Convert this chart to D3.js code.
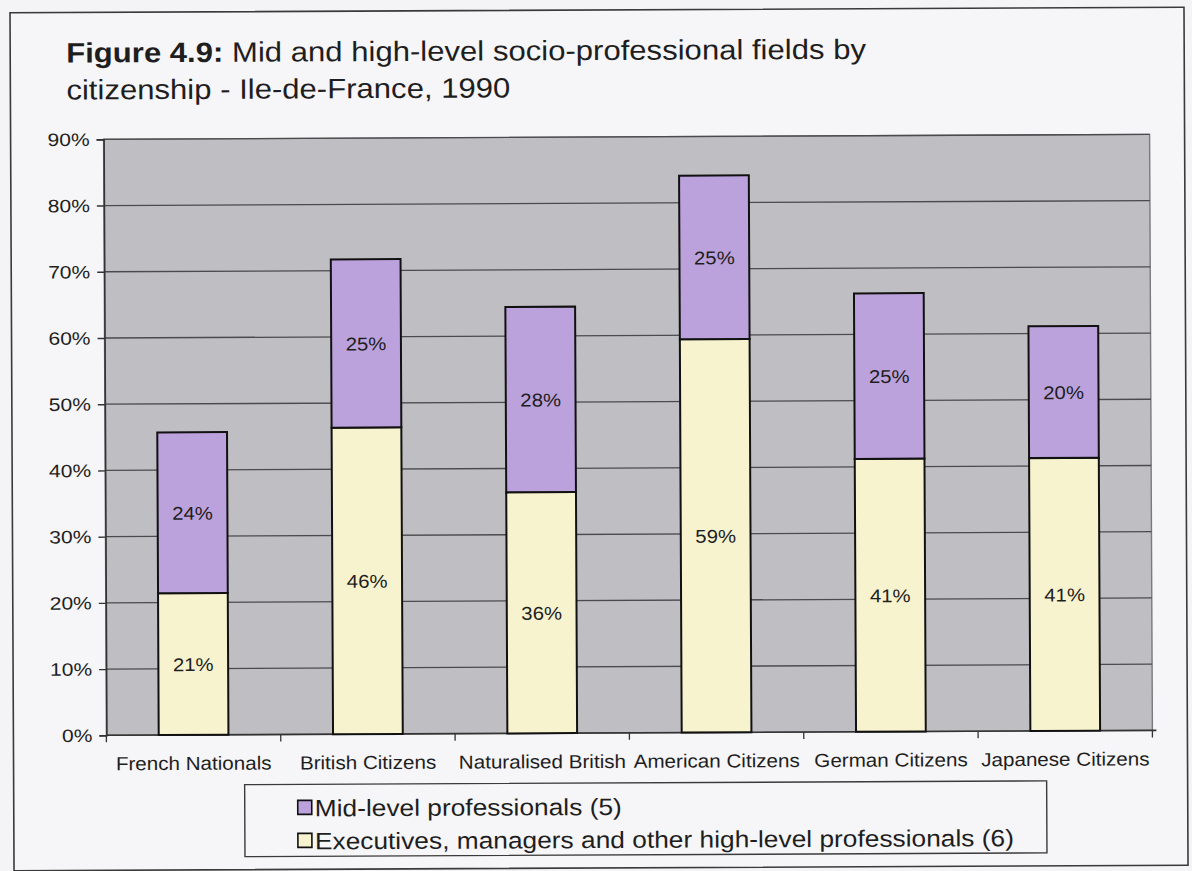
<!DOCTYPE html>
<html>
<head>
<meta charset="utf-8">
<script src="https://cdn.jsdelivr.net/npm/d3@7"></script>
<style>
  html, body { margin: 0; padding: 0; background: #f4f3f5; }
  svg { display: block; }
  text { font-family: "Liberation Sans", Arial, Helvetica, sans-serif; fill: #1e1e1e; }
</style>
</head>
<body>
<svg id="chart" width="1192" height="871"></svg>
<script>
// Citizenship groups along the x axis
const categories = ["French Nationals", "British Citizens", "Naturalised British",
                    "American Citizens", "German Citizens", "Japanese Citizens"];
// Share of each group in executive / high-level posts (6)
const executives = [0.214, 0.463, 0.364, 0.594, 0.412, 0.412];
// Share of each group in mid-level posts (5)
const midLevel = [0.243, 0.254, 0.280, 0.247, 0.250, 0.199];
const yTicks = [0, 0.1, 0.2, 0.3, 0.4, 0.5, 0.6, 0.7, 0.8, 0.9];
const seriesNames = ["Mid-level professionals (5)",
                     "Executives, managers and other high-level professionals (6)"];

const colMid = "#bca2dc";
const colExec = "#f8f3cf";
const plotBg = "#bfbec3";

(function draw() {
  const svg = d3.select("#chart");
  const W = 1192, H = 871;
  const root = svg.append("g").attr("transform", `rotate(-0.27 ${W / 2} ${H / 2})`);

  // text helper: places a label at (x, y) with a horizontal stretch k
  function label(parent, x, y, str, size, k, anchor) {
    const g = parent.append("g").attr("transform", `translate(${x},${y}) scale(${k},1)`);
    return g.append("text").attr("text-anchor", anchor || "start")
      .style("font-size", size + "px").text(str);
  }

  // outer frame
  root.append("rect").attr("x", 12).attr("y", 10).attr("width", 1174).attr("height", 858)
    .attr("fill", "#f6f5f7").attr("stroke", "#3a3a3a").attr("stroke-width", 1.6);

  // title
  const tg = root.append("g").attr("transform", "translate(68,60) scale(1.11,1)");
  const title = tg.append("text").style("font-size", "28px");
  title.append("tspan").attr("font-weight", "bold").text("Figure 4.9:");
  title.append("tspan").text(" Mid and high-level socio-professional fields by");
  label(root, 68, 97, "citizenship - Ile-de-France, 1990", 28, 1.11);

  const pL = 105, pR = 1151, pT = 137, pB = 733;
  const x = d3.scaleBand().domain(categories).range([pL, pR])
    .paddingInner(0.6).paddingOuter(0.3);
  const y = d3.scaleLinear().domain([0, 0.9]).range([pB, pT]);

  // plot area
  root.append("rect").attr("x", pL).attr("y", pT).attr("width", pR - pL)
    .attr("height", pB - pT).attr("fill", plotBg)
    .attr("stroke", "#7a7a7e").attr("stroke-width", 1.4);

  // gridlines
  root.append("g").selectAll("line").data(yTicks.filter(d => d > 0)).join("line")
    .attr("x1", pL).attr("x2", pR)
    .attr("y1", d => y(d)).attr("y2", d => y(d))
    .attr("stroke", "#4b4b4e").attr("stroke-width", 1.3);

  // y axis
  const yAxis = d3.axisLeft(y).tickValues(yTicks).tickFormat("").tickSize(7);
  const yg = root.append("g").attr("transform", `translate(${pL},0)`).call(yAxis);
  yg.select(".domain").attr("stroke", "#333").attr("stroke-width", 1.6);
  yg.selectAll(".tick line").attr("stroke", "#333").attr("stroke-width", 1.4);
  const pct = d3.format(".0%");
  yTicks.forEach(t => label(root, 91, y(t) + 6.5, pct(t), 18, 1.17, "end"));

  // x axis: ticks between categories
  const xAxisG = root.append("g").attr("transform", `translate(0,${pB})`);
  xAxisG.append("line").attr("x1", pL).attr("x2", pR + 4).attr("y1", 0).attr("y2", 0)
    .attr("stroke", "#333").attr("stroke-width", 1.6);
  const bounds = d3.range(categories.length + 1).map(i => pL + i * x.step());
  xAxisG.selectAll("line.tk").data(bounds).join("line").attr("class", "tk")
    .attr("x1", d => d).attr("x2", d => d).attr("y1", 0).attr("y2", 7)
    .attr("stroke", "#333").attr("stroke-width", 1.3);
  categories.forEach(c => label(root, x(c) + x.bandwidth() / 2, pB + 35, c, 19, 1.085, "middle"));

  // stacked bars
  const rows = categories.map((c, i) => ({ cat: c, exec: executives[i], mid: midLevel[i] }));
  const bars = root.append("g");
  rows.forEach(r => {
    const bx = x(r.cat), bw = x.bandwidth();
    bars.append("rect").attr("x", bx).attr("y", y(r.exec)).attr("width", bw)
      .attr("height", y(0) - y(r.exec)).attr("fill", colExec)
      .attr("stroke", "#111").attr("stroke-width", 2);
    bars.append("rect").attr("x", bx).attr("y", y(r.exec + r.mid)).attr("width", bw)
      .attr("height", y(r.exec) - y(r.exec + r.mid)).attr("fill", colMid)
      .attr("stroke", "#111").attr("stroke-width", 2);
    label(bars, bx + bw / 2, y(r.exec / 2) + 7, pct(r.exec), 18.5, 1.1, "middle");
    label(bars, bx + bw / 2, y(r.exec + r.mid / 2) + 7, pct(r.mid), 18.5, 1.1, "middle");
  });

  // legend
  const lg = root.append("g");
  lg.append("rect").attr("x", 243).attr("y", 783).attr("width", 802).attr("height", 72)
    .attr("fill", "#f6f5f7").attr("stroke", "#3a3a3a").attr("stroke-width", 1.4);
  [colMid, colExec].forEach((c, i) => {
    const yy = 800 + i * 33;
    lg.append("rect").attr("x", 296).attr("y", yy - 1).attr("width", 14).attr("height", 14)
      .attr("fill", c).attr("stroke", "#111").attr("stroke-width", 1.6);
    label(lg, 313, yy + 15, seriesNames[i], 23.5, 1.12);
  });
})();
</script>
</body>
</html>
